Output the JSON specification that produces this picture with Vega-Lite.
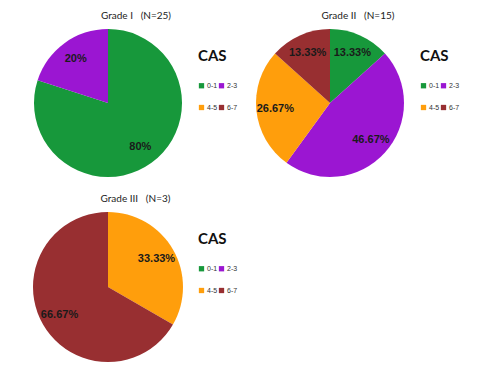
{
  "$schema": "https://vega.github.io/schema/vega-lite/v6.json",
  "background": "white",
  "padding": {"left": 33, "top": 11, "right": 0, "bottom": 0},
  "datasets": {
    "g1": [
      {"cas": "0-1", "pct": 80, "label": "80%"},
      {"cas": "2-3", "pct": 20, "label": "20%"}
    ],
    "g2": [
      {"cas": "0-1", "pct": 13.33, "label": "13.33%"},
      {"cas": "2-3", "pct": 46.67, "label": "46.67%"},
      {"cas": "4-5", "pct": 26.67, "label": "26.67%"},
      {"cas": "6-7", "pct": 13.33, "label": "13.33%"}
    ],
    "g3": [
      {"cas": "4-5", "pct": 33.33, "label": "33.33%"},
      {"cas": "6-7", "pct": 66.67, "label": "66.67%"}
    ]
  },
  "config": {
    "view": {"stroke": null},
    "title": {"font": "Lato", "fontSize": 10, "fontWeight": "normal", "color": "#222", "frame": "bounds", "offset": 8},
    "legend": {
      "orient": "none", "legendX": 164, "legendY": 20, "direction": "horizontal",
      "columns": 2, "titleFont": "Lato", "titleFontSize": 15, "titleFontWeight": "bold", "titleColor": "#111",
      "titlePadding": 18, "labelFont": "Liberation Sans", "labelFontSize": 7, "labelColor": "#333",
      "symbolType": "square", "symbolSize": 28, "symbolStrokeWidth": 0, "symbolOpacity": 1,
      "rowPadding": 14, "columnPadding": 0, "labelOffset": 2
    }
  },
  "vconcat": [
    {
      "hconcat": [
        {
          "title": "Grade I\u00a0\u00a0\u00a0(N=25)",
          "width": 148, "height": 148,
          "data": {"name": "g1"},
          "encoding": {
            "theta": {"field": "pct", "type": "quantitative", "stack": true},
            "order": {"field": "cas", "sort": "ascending"},
            "color": {"field": "cas", "type": "nominal", "title": "CAS",
              "scale": {"domain": ["0-1", "2-3", "4-5", "6-7"], "range": ["#17983b", "#9b16d2", "#ff9e0c", "#982f31"]}}
          },
          "layer": [
            {"mark": {"type": "arc", "outerRadius": 74}},
            {"mark": {"type": "text", "radius": 55, "font": "Liberation Sans", "fontSize": 11, "fontWeight": "bold"},
             "encoding": {"text": {"field": "label"}, "color": {"value": "#1a1a1a"}, "detail": {"field": "cas"}}}
          ]
        },
        {
          "title": "Grade II\u00a0\u00a0\u00a0(N=15)",
          "width": 148, "height": 148,
          "data": {"name": "g2"},
          "encoding": {
            "theta": {"field": "pct", "type": "quantitative", "stack": true},
            "order": {"field": "cas", "sort": "ascending"},
            "color": {"field": "cas", "type": "nominal", "title": "CAS",
              "scale": {"domain": ["0-1", "2-3", "4-5", "6-7"], "range": ["#17983b", "#9b16d2", "#ff9e0c", "#982f31"]}}
          },
          "layer": [
            {"mark": {"type": "arc", "outerRadius": 74}},
            {"mark": {"type": "text", "radius": 55, "font": "Liberation Sans", "fontSize": 11, "fontWeight": "bold"},
             "encoding": {"text": {"field": "label"}, "color": {"value": "#1a1a1a"}, "detail": {"field": "cas"}}}
          ]
        }
      ],
      "spacing": 18,
      "resolve": {"scale": {"color": "independent"}}
    },
    {
      "title": "Grade III\u00a0\u00a0\u00a0(N=3)",
      "width": 148, "height": 150,
      "data": {"name": "g3"},
      "encoding": {
        "theta": {"field": "pct", "type": "quantitative", "stack": true},
        "order": {"field": "cas", "sort": "ascending"},
        "color": {"field": "cas", "type": "nominal", "title": "CAS",
          "scale": {"domain": ["0-1", "2-3", "4-5", "6-7"], "range": ["#17983b", "#9b16d2", "#ff9e0c", "#982f31"]}}
      },
      "layer": [
        {"mark": {"type": "arc", "outerRadius": 75}},
        {"mark": {"type": "text", "radius": 56, "font": "Liberation Sans", "fontSize": 11, "fontWeight": "bold"},
         "encoding": {"text": {"field": "label"}, "color": {"value": "#1a1a1a"}, "detail": {"field": "cas"}}}
      ]
    }
  ],
  "spacing": 17,
  "resolve": {"scale": {"color": "independent"}}
}
